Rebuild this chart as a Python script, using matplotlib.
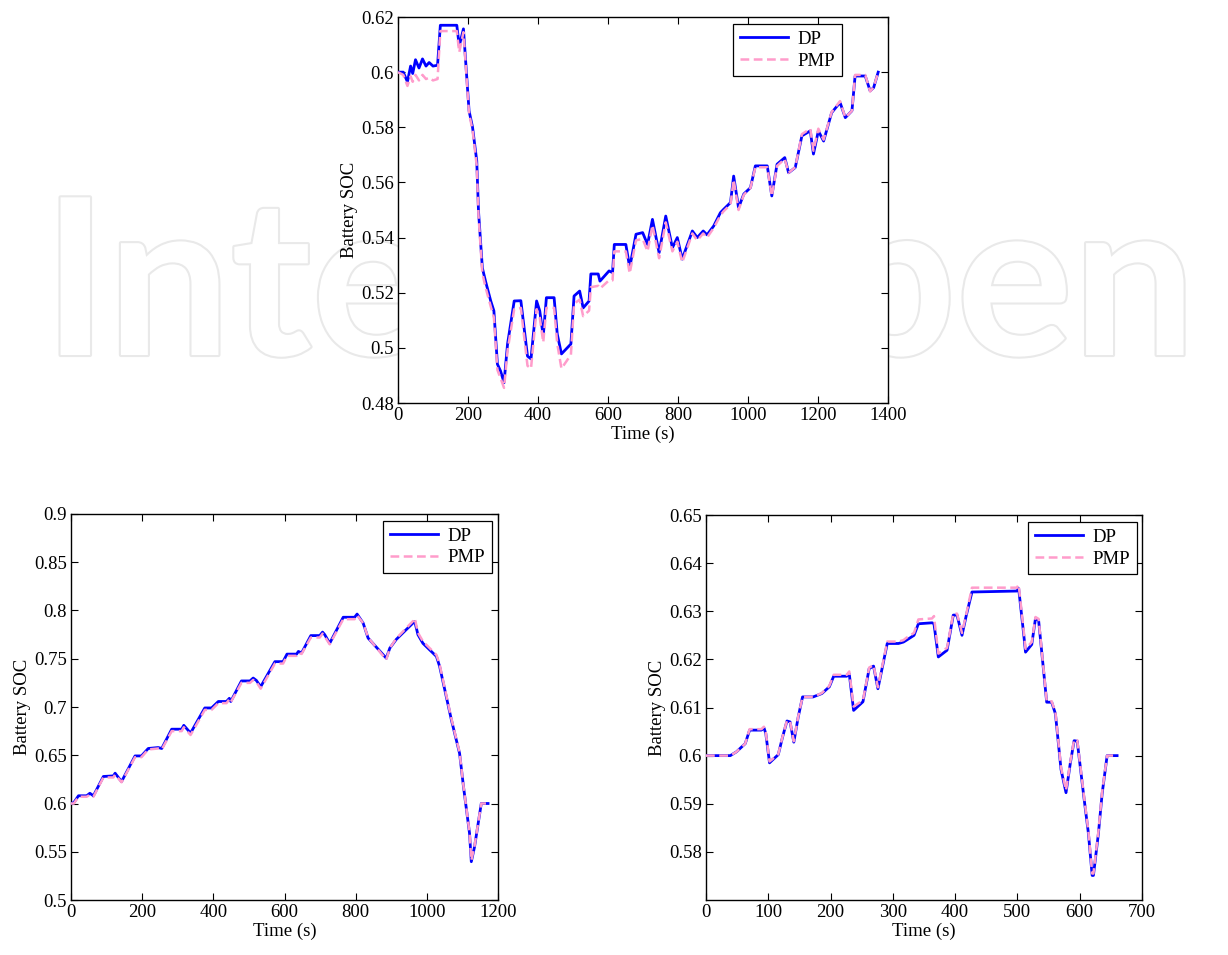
import matplotlib
matplotlib.use("Agg")
import matplotlib.pyplot as plt
from matplotlib.ticker import FuncFormatter
import matplotlib.patheffects as pe

plt.rcParams['font.family'] = ['Liberation Serif', 'DejaVu Serif']
plt.rcParams['font.size'] = 13.5

# ---------------- data: top panel ----------------
t_top = [0, 15, 27, 36, 42, 50, 60, 70, 80, 89, 100, 113, 121, 168, 175, 187,
         203, 213, 225, 230, 241, 250, 265, 274, 284, 293, 303, 313, 332, 351,
         370, 380, 396, 405, 415, 424, 446, 455, 467, 494, 503, 519, 529, 546,
         551, 572, 577, 603, 613, 618, 651, 662, 680, 699, 713, 727, 746, 765,
         784, 798, 812, 841, 855, 872, 883, 902, 921, 930, 950, 959, 973, 988,
         1007, 1021, 1055, 1068, 1083, 1105, 1116, 1135, 1154, 1178, 1187, 1201,
         1216, 1239, 1263, 1278, 1297, 1306, 1335, 1349, 1359, 1372]
dp_top = [0.600, 0.600, 0.5965, 0.6022, 0.5995, 0.6045, 0.6015, 0.6048, 0.6022, 0.6035,
          0.6022, 0.6025, 0.617, 0.617, 0.6095, 0.6157,
          0.586, 0.580, 0.5678, 0.5496, 0.529, 0.5242, 0.517, 0.5134, 0.4941, 0.4916,
          0.4874, 0.5014, 0.517, 0.5171, 0.497, 0.496, 0.517, 0.5134, 0.5043, 0.5182,
          0.5182, 0.505, 0.4978, 0.5014, 0.5188, 0.5206, 0.5145, 0.517, 0.5268, 0.5268,
          0.5242, 0.5279, 0.5273, 0.5375, 0.5375, 0.5291, 0.5412, 0.5418, 0.5375, 0.5466,
          0.5345, 0.5478, 0.5363, 0.540, 0.5322, 0.5424, 0.540, 0.5424, 0.541, 0.5442,
          0.549, 0.5502, 0.5527, 0.5623, 0.5508, 0.5558, 0.5581, 0.566, 0.566, 0.5551,
          0.5666, 0.569, 0.5635, 0.5654, 0.5769, 0.5787, 0.5703, 0.5787, 0.575, 0.5853,
          0.589, 0.5835, 0.586, 0.5986, 0.5986, 0.5932, 0.5944, 0.600]
pmp_top = [0.600, 0.599, 0.595, 0.5985, 0.5965, 0.599, 0.597, 0.599, 0.5975, 0.598,
           0.597, 0.5975, 0.6149, 0.6149, 0.6072, 0.6145,
           0.585, 0.579, 0.566, 0.548, 0.527, 0.522, 0.515, 0.511, 0.492, 0.489,
           0.4855, 0.499, 0.514, 0.5145, 0.4935, 0.4925, 0.514, 0.511, 0.502, 0.5145,
           0.5145, 0.5015, 0.4925, 0.4975, 0.516, 0.5175, 0.5115, 0.5135, 0.522, 0.5225,
           0.5215, 0.5245, 0.5245, 0.535, 0.535, 0.527, 0.539, 0.5395, 0.535, 0.5445,
           0.5325, 0.5455, 0.535, 0.5385, 0.531, 0.5415, 0.539, 0.5415, 0.540, 0.5435,
           0.548, 0.5495, 0.552, 0.561, 0.550, 0.5555, 0.558, 0.5655, 0.5655, 0.555,
           0.566, 0.5685, 0.5635, 0.5655, 0.5775, 0.5795, 0.5715, 0.5795, 0.5755, 0.5855,
           0.5895, 0.5835, 0.586, 0.599, 0.599, 0.593, 0.5945, 0.600]

# ---------------- data: bottom-left panel ----------------
t_bl = [0, 8, 21, 44, 53, 63, 91, 119, 124, 142, 180, 198, 217, 245, 255, 283, 311,
        317, 336, 376, 395, 414, 437, 445, 449, 479, 503, 512, 521, 533, 573, 596, 607,
        634, 639, 648, 674, 699, 707, 713, 727, 765, 797, 804, 821, 835, 886, 896, 914,
        961, 966, 975, 989, 1027, 1036, 1069, 1092, 1103, 1120, 1125, 1134, 1153, 1172]
dp_bl = [0.600, 0.601, 0.608, 0.608, 0.6106, 0.608, 0.628, 0.6286, 0.6314, 0.6227,
         0.6493, 0.6493, 0.657, 0.658, 0.657, 0.677, 0.677, 0.681, 0.673, 0.699, 0.699,
         0.7057, 0.7057, 0.709, 0.7057, 0.727, 0.727, 0.730, 0.7275, 0.721, 0.747, 0.747,
         0.7548, 0.7548, 0.7576, 0.756, 0.774, 0.774, 0.7776, 0.775, 0.766, 0.793, 0.793,
         0.7963, 0.787, 0.7714, 0.7506, 0.761, 0.770, 0.787, 0.7887, 0.775, 0.766, 0.7524,
         0.742, 0.6867, 0.652, 0.6175, 0.5691, 0.5397, 0.555, 0.600, 0.600]
pmp_bl = [0.600, 0.600, 0.607, 0.607, 0.609, 0.607, 0.627, 0.627, 0.630, 0.622,
          0.648, 0.648, 0.656, 0.657, 0.656, 0.675, 0.675, 0.679, 0.671, 0.697, 0.697,
          0.704, 0.704, 0.708, 0.705, 0.725, 0.725, 0.728, 0.726, 0.719, 0.745, 0.745,
          0.753, 0.753, 0.756, 0.755, 0.772, 0.772, 0.776, 0.773, 0.765, 0.791, 0.791,
          0.795, 0.787, 0.772, 0.749, 0.761, 0.771, 0.789, 0.792, 0.777, 0.768, 0.754,
          0.744, 0.688, 0.653, 0.618, 0.570, 0.541, 0.556, 0.600, 0.600]

# ---------------- data: bottom-right panel ----------------
t_br = [0, 39, 49, 63, 70, 89, 93, 96, 102, 106, 116, 123, 130, 135, 141, 148, 155,
        172, 186, 198, 205, 226, 230, 237, 252, 262, 269, 276, 291, 309, 317, 322, 334,
        341, 363, 366, 373, 387, 397, 403, 411, 418, 427, 499, 502, 510, 513, 523, 529,
        534, 547, 555, 561, 570, 578, 585, 591, 596, 606, 614, 620, 622, 630, 636, 644, 660]
dp_br = [0.600, 0.600, 0.6008, 0.6025, 0.6053, 0.6053, 0.6058, 0.6046, 0.5985, 0.599,
         0.6002, 0.6039, 0.6072, 0.607, 0.6028, 0.608, 0.6122, 0.6122, 0.6129, 0.6143,
         0.6165, 0.6165, 0.617, 0.6094, 0.6112, 0.6181, 0.6186, 0.6139, 0.6233, 0.6233,
         0.6236, 0.624, 0.625, 0.6274, 0.6276, 0.6274, 0.6205, 0.6219, 0.6292, 0.6292,
         0.625, 0.6292, 0.634, 0.6342, 0.6347, 0.6253, 0.6215, 0.6231, 0.6285, 0.6281,
         0.6111, 0.6111, 0.6087, 0.5971, 0.5923, 0.5985, 0.6031, 0.6030, 0.5921, 0.5838,
         0.5751, 0.5751, 0.5838, 0.5921, 0.600, 0.600]
pmp_br = [0.600, 0.600, 0.6008, 0.6025, 0.6055, 0.6055, 0.606, 0.6048, 0.5988, 0.5992,
          0.6003, 0.604, 0.6073, 0.6071, 0.603, 0.6081, 0.6122, 0.6122, 0.613, 0.6145,
          0.6168, 0.6168, 0.6175, 0.6102, 0.6115, 0.6183, 0.6188, 0.6142, 0.6237, 0.6237,
          0.624, 0.6245, 0.6255, 0.6283, 0.6285, 0.629, 0.6212, 0.6224, 0.6295, 0.6295,
          0.6255, 0.6295, 0.6349, 0.6349, 0.6355, 0.626, 0.6222, 0.6236, 0.6288, 0.6284,
          0.6113, 0.6113, 0.609, 0.5975, 0.5928, 0.5988, 0.6033, 0.6032, 0.5925, 0.5842,
          0.5755, 0.5755, 0.5842, 0.5925, 0.600, 0.600]

series_labels = ['DP', 'PMP']
xlabel = 'Time (s)'
ylabel = 'Battery SOC'
watermark = 'IntechOpen'

dp_color = '#0000ff'
pmp_color = '#ff9ccb'

W, H = 1228, 955
fig = plt.figure(figsize=(W / 100, H / 100), dpi=100)

# watermark (behind axes), outlined letters
fig.text(43 / W, 1 - 355 / H, watermark, fontsize=157, family=['Lato', 'DejaVu Sans'],
         fontweight='bold', color='white', ha='left', va='baseline', zorder=0,
         path_effects=[pe.withStroke(linewidth=3.0, foreground='#e9e9e9')])


def fmt(v, pos):
    return ('%g' % round(v, 4))


def make_axes(rect, t, dp, pmp, xlim, xticks, ylim, yticks, leg_anchor):
    ax = fig.add_axes(rect, zorder=2)
    ax.plot(t, dp, color=dp_color, lw=2.0, label=series_labels[0], zorder=3)
    ax.plot(t, pmp, color=pmp_color, lw=1.8, ls=(0, (3.5, 1.8)), label=series_labels[1], zorder=4)
    ax.set_xlim(*xlim)
    ax.set_ylim(*ylim)
    ax.set_xticks(xticks)
    ax.set_yticks(yticks)
    ax.xaxis.set_major_formatter(FuncFormatter(fmt))
    ax.yaxis.set_major_formatter(FuncFormatter(fmt))
    ax.tick_params(direction='in', top=True, right=True, length=5, width=0.8,
                   labelsize=13.5, pad=3)
    for s in ax.spines.values():
        s.set_linewidth(1.0)
    ax.set_xlabel(xlabel, fontsize=13.5, labelpad=1)
    ax.set_ylabel(ylabel, fontsize=13.5, labelpad=2)
    leg = ax.legend(loc='upper right', bbox_to_anchor=leg_anchor, borderaxespad=0,
                    fancybox=False, framealpha=1, edgecolor='black', fontsize=13.5,
                    handlelength=2.6, handletextpad=0.5, borderpad=0.35, labelspacing=0.25)
    leg.get_frame().set_linewidth(0.9)
    return ax


make_axes([398 / W, 1 - 403 / H, 490 / W, 386 / H], t_top, dp_top, pmp_top,
          (0, 1400), range(0, 1401, 200), (0.48, 0.62),
          [0.48, 0.50, 0.52, 0.54, 0.56, 0.58, 0.60, 0.62], (1 - 46 / 490, 1 - 7 / 386))

make_axes([71 / W, 1 - 900 / H, 427 / W, 386 / H], t_bl, dp_bl, pmp_bl,
          (0, 1200), range(0, 1201, 200), (0.5, 0.9),
          [0.5, 0.55, 0.6, 0.65, 0.7, 0.75, 0.8, 0.85, 0.9], (1 - 6 / 427, 1 - 7 / 386))

make_axes([706 / W, 1 - 900 / H, 436 / W, 385 / H], t_br, dp_br, pmp_br,
          (0, 700), range(0, 701, 100), (0.57, 0.65),
          [0.58, 0.59, 0.60, 0.61, 0.62, 0.63, 0.64, 0.65], (1 - 5 / 436, 1 - 7 / 385))

fig.savefig('out.png', dpi=100, facecolor='white')
